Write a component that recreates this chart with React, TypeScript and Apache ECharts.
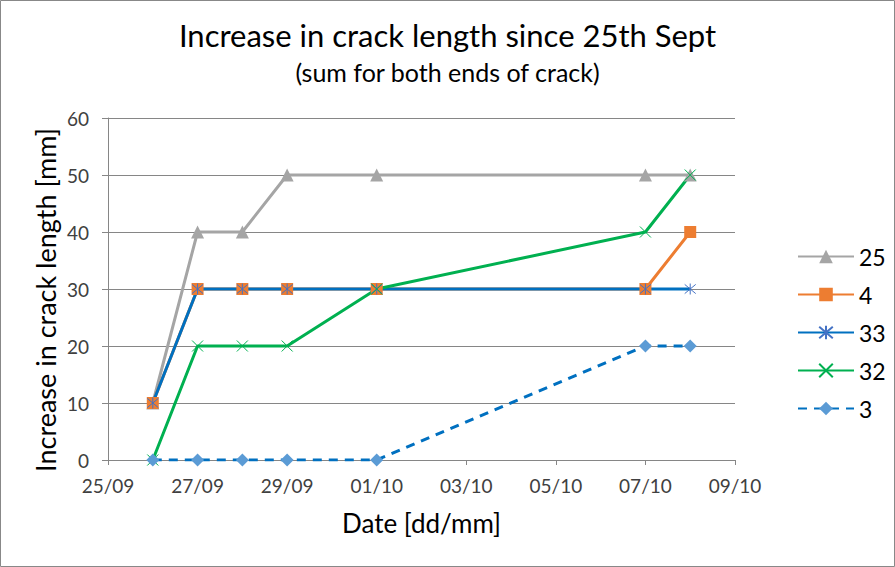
import React, { useEffect, useRef } from "react";
import * as echarts from "echarts";

const startDate = "2025-09-25";
const dates = ["2025-09-26", "2025-09-27", "2025-09-28", "2025-09-29", "2025-10-01", "2025-10-07", "2025-10-08"];
const xTickLabels = ["25/09", "27/09", "29/09", "01/10", "03/10", "05/10", "07/10", "09/10"];
const yTickLabels = ["0", "10", "20", "30", "40", "50", "60"];
const seriesNames = ["25", "4", "33", "32", "3"];
const s25 = [10, 40, 40, 50, 50, 50, 50];
const s4 = [10, 30, 30, 30, 30, 30, 40];
const s33 = [10, 30, 30, 30, 30, 30, 30];
const s32 = [0, 20, 20, 20, 30, 40, 50];
const s3 = [0, 0, 0, 0, 0, 20, 20];

const DAY = 86400000;
const dayOffset = (d: string) => Math.round((Date.parse(d) - Date.parse(startDate)) / DAY);
const toPoints = (vals: number[]) => vals.map((v, i) => [dayOffset(dates[i]), v]);

const FONT = "Lato";
const X_PATH = "path://M0,0 L10,10 M10,0 L0,10";
const STAR_PATH = "path://M0,0 L10,10 M10,0 L0,10 M5,-1 L5,11";

export default function App() {
  const ref = useRef<HTMLDivElement>(null);
  useEffect(() => {
    if (!ref.current) return;
    const chart = echarts.init(ref.current, null, { renderer: "svg" });
    const mk = (
      name: string,
      data: number[],
      color: string,
      markerColor: string,
      symbol: string,
      symbolSize: number,
      dashed = false,
      stroke = false
    ) => ({
      name,
      type: "line",
      data: toPoints(data),
      symbol,
      symbolSize,
      showAllSymbol: true,
      lineStyle: { color, width: 3, type: dashed ? [9, 7] : "solid" },
      itemStyle: stroke
        ? { color: "rgba(0,0,0,0)", borderColor: markerColor, borderWidth: 1 }
        : { color: markerColor, borderWidth: 0 },
      emphasis: { disabled: true },
    });
    chart.setOption({
      animation: false,
      textStyle: { fontFamily: FONT },
      title: {
        text: "Increase in crack length since 25th Sept",
        subtext: "(sum for both ends of crack)",
        left: "center",
        top: 14,
        itemGap: 9,
        textStyle: { fontFamily: FONT, fontSize: 31, fontWeight: "normal", color: "#000" },
        subtextStyle: { fontFamily: FONT, fontSize: 25, color: "#000" },
      },
      graphic: [
        {
          type: "rect",
          shape: { x: 0.5, y: 0.5, width: 894, height: 566 },
          style: { fill: "none", stroke: "#888", lineWidth: 1 },
          silent: true,
        },
        {
          type: "text",
          x: 45,
          y: 300,
          rotation: Math.PI / 2,
          silent: true,
          style: {
            text: "Increase in crack length [mm]",
            fontFamily: FONT,
            fontSize: 27,
            fill: "#000",
            align: "center",
            verticalAlign: "middle",
          },
        },
      ],
      grid: { left: 108, right: 160, top: 118, bottom: 107 },
      legend: {
        orient: "vertical",
        left: 792,
        top: 240,
        itemWidth: 56,
        itemHeight: 17,
        itemGap: 15,
        data: seriesNames,
        textStyle: { fontFamily: FONT, fontSize: 23, lineHeight: 22, color: "#000" },
      },
      xAxis: {
        type: "value",
        min: 0,
        max: 14,
        interval: 2,
        name: "Date [dd/mm]",
        nameLocation: "middle",
        nameGap: 50,
        nameTextStyle: { fontFamily: FONT, fontSize: 26, color: "#000" },
        axisLine: { show: true, lineStyle: { color: "#868686", width: 1 } },
        axisTick: { show: true, length: 5, lineStyle: { color: "#868686" } },
        axisLabel: {
          color: "#404040",
          fontSize: 19,
          fontFamily: FONT,
          margin: 16,
          formatter: (v: number) => xTickLabels[Math.round(v / 2)] ?? "",
        },
        splitLine: { show: false },
      },
      yAxis: {
        type: "value",
        min: 0,
        max: 60,
        interval: 10,
        axisLine: { show: true, lineStyle: { color: "#868686", width: 1 } },
        axisTick: { show: true, length: 6, lineStyle: { color: "#868686" } },
        axisLabel: {
          color: "#404040",
          fontSize: 19,
          fontFamily: FONT,
          margin: 19,
          formatter: (v: number) => yTickLabels[Math.round(v / 10)] ?? "",
        },
        splitLine: { show: true, lineStyle: { color: "#868686", width: 1 } },
      },
      series: [
        mk("25", s25, "#A5A5A5", "#A5A5A5", "triangle", 13),
        mk("4", s4, "#ED7D31", "#ED7D31", "rect", 12),
        mk("33", s33, "#0070C0", "#4472C4", STAR_PATH, 11, false, true),
        mk("32", s32, "#00B050", "#00B050", X_PATH, 11, false, true),
        mk("3", s3, "#0070C0", "#5B9BD5", "diamond", 13, true),
      ],
    });
    return () => chart.dispose();
  }, []);
  return (
    <div
      ref={ref}
      style={{ position: "absolute", left: 0, top: 0, width: 895, height: 567, background: "#fff" }}
    />
  );
}
